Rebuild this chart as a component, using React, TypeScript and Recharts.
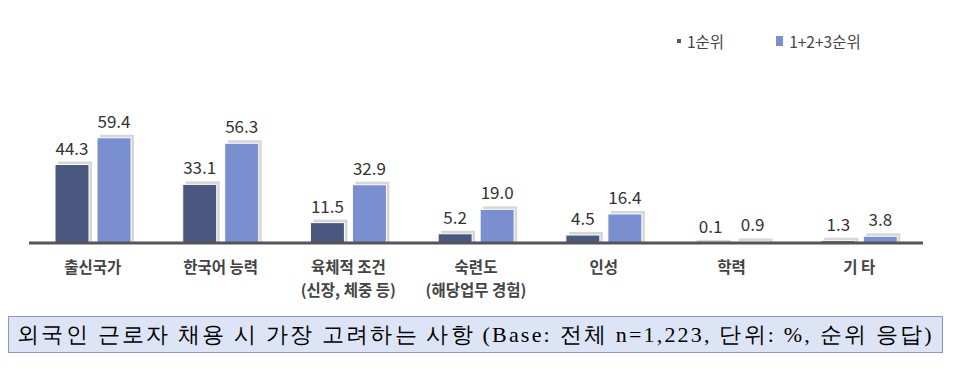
import { BarChart, Bar, XAxis, YAxis, LabelList } from 'recharts'

const categories = ['출신국가', '한국어 능력', '육체적 조건|(신장, 체중 등)', '숙련도|(해당업무 경험)', '인성', '학력', '기 타']
const rank1 = [44.3, 33.1, 11.5, 5.2, 4.5, 0.1, 1.3]
const rank123 = [59.4, 56.3, 32.9, 19.0, 16.4, 0.9, 3.8]
const seriesNames = ['1순위', '1+2+3순위']

const DARK = '#4a577e'
const LIGHT = '#7a8fd0'
const FONT = '"Noto Sans CJK KR", "Noto Sans", sans-serif'

const data = categories.map((c, i) => ({ name: c, r1: rank1[i], r123: rank123[i] }))

// bar with a soft grey drop shadow up-right
// eslint-disable-next-line @typescript-eslint/no-explicit-any
function ShadowBar(props: any) {
  const { x, y, width, height, fill } = props
  if (height == null || width == null) return null
  const h = Math.max(height, 0)
  return (
    <g>
      <rect x={x + 3} y={y - 3} width={width} height={h + 3} fill="#d6d6d6" />
      <rect x={x} y={y} width={width} height={h} fill={fill} stroke="#fff" strokeWidth={1} />
    </g>
  )
}

// eslint-disable-next-line @typescript-eslint/no-explicit-any
function CatTick({ x, y, payload }: any) {
  const lines = String(payload.value).split('|')
  return (
    <g transform={`translate(${x},${y})`}>
      {lines.map((l, i) => (
        <text key={i} x={0} y={22 + i * 23} textAnchor="middle" fill="#444" fontSize={15.5}
          fontWeight={700} fontFamily={FONT}>
          {l}
        </text>
      ))}
    </g>
  )
}

function LegendBox() {
  return (
    <div style={{
      position: 'absolute', left: 677, top: 30, display: 'flex', gap: 52,
      fontFamily: FONT, fontSize: 15.5, color: '#444',
    }}>
      {[DARK, LIGHT].map((c, i) => (
        <div key={i} style={{ display: 'flex', alignItems: 'center', gap: 6 }}>
          <span style={{ width: i === 0 ? 4 : 7, height: i === 0 ? 4 : 10, background: c, display: 'inline-block' }} />
          <span>{seriesNames[i]}</span>
        </div>
      ))}
    </div>
  )
}

export default function App() {
  return (
    <div style={{ position: 'absolute', left: 0, top: 0, width: 957, height: 379, background: '#fff' }}>
      <BarChart width={957} height={379} data={data}
        margin={{ top: 119, right: 34, left: 29, bottom: 76 }}
        barSize={34} barGap={8}>
        <XAxis dataKey="name" tick={<CatTick />} interval={0} axisLine={{ stroke: '#555', strokeWidth: 3 }}
          tickLine={false} height={60} />
        <YAxis hide domain={[0, 70]} />
        <Bar dataKey="r1" fill={DARK} shape={<ShadowBar />} isAnimationActive={false}>
          <LabelList dataKey="r1" position="top" offset={10} fill="#333" fontSize={17}
            fontFamily={FONT} fontWeight={400} formatter={(v: number) => v.toFixed(1)} />
        </Bar>
        <Bar dataKey="r123" fill={LIGHT} shape={<ShadowBar />} isAnimationActive={false}>
          <LabelList dataKey="r123" position="top" offset={10} fill="#333" fontSize={17}
            fontFamily={FONT} fontWeight={400} formatter={(v: number) => v.toFixed(1)} />
        </Bar>
      </BarChart>
      <LegendBox />
      <div style={{
        position: 'absolute', left: 8, top: 316, width: 935, height: 37, boxSizing: 'border-box',
        background: '#dde4f6', border: '1px solid #8a97c8', fontFamily: 'serif', fontSize: 22,
        letterSpacing: 2.2, color: '#000', display: 'flex', alignItems: 'center', justifyContent: 'center',
        whiteSpace: 'nowrap',
      }}>
        외국인 근로자 채용 시 가장 고려하는 사항 (Base: 전체 n=1,223, 단위: %, 순위 응답)
      </div>
    </div>
  )
}
